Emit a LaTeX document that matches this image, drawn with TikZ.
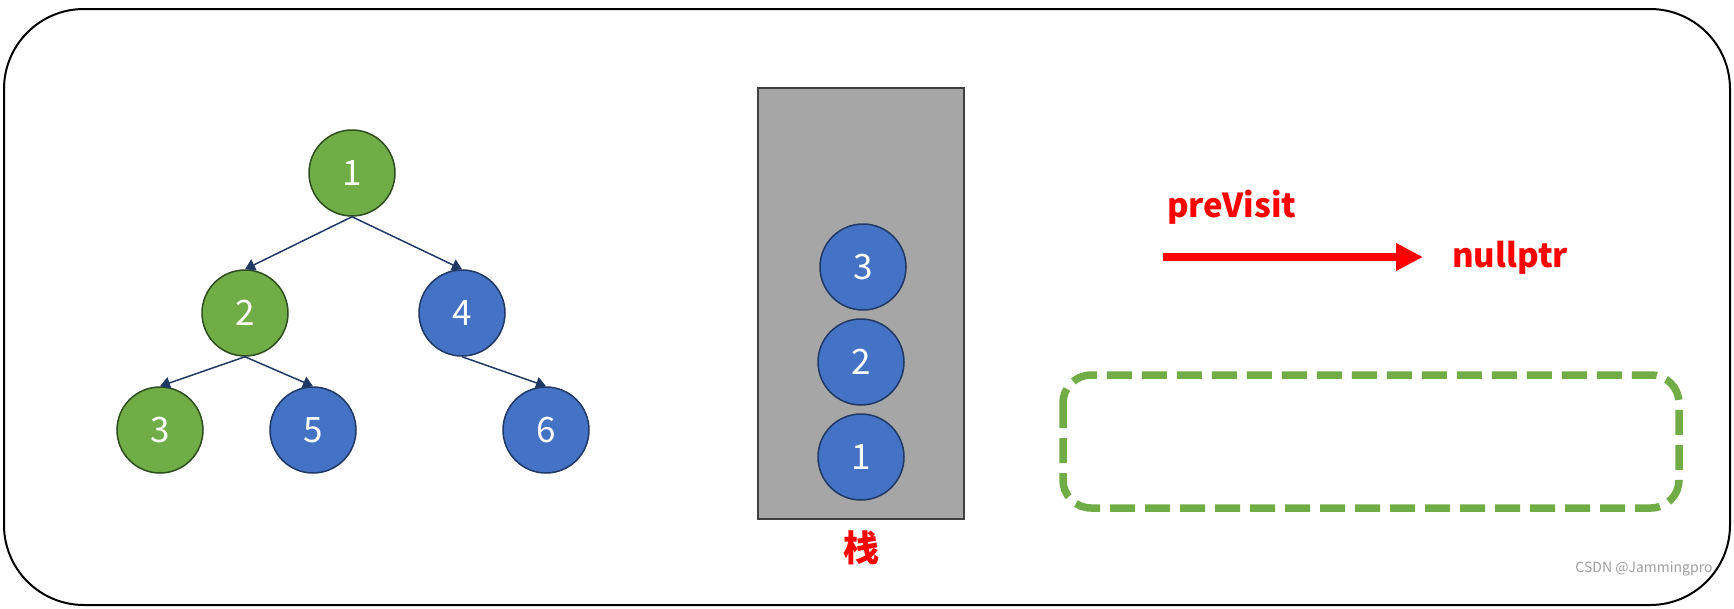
\documentclass[tikz,border=0pt]{standalone}
\usepackage{fontspec}
\setmainfont{Noto Sans CJK SC}
\usetikzlibrary{arrows.meta}
\definecolor{nodegreen}{HTML}{70AD47}
\definecolor{edgegreen}{HTML}{2E4D1F}
\definecolor{nodeblue}{HTML}{4472C4}
\definecolor{edgeblue}{HTML}{1F3864}
\definecolor{stackgray}{HTML}{A6A6A6}
\definecolor{stackline}{HTML}{404040}
\tikzset{
  visited/.style={circle, draw=edgegreen, fill=nodegreen, line width=1.5pt,
    minimum size=86pt, inner sep=0pt, text=white, font=\fontsize{35}{35}\selectfont},
  waiting/.style={visited, draw=edgeblue, fill=nodeblue},
  treelink/.style={draw=edgeblue, line width=1.5pt, -{Triangle[length=10pt, width=12pt]}},
  redtext/.style={text=red, font=\fontsize{33}{33}\selectfont\bfseries}
}
\begin{document}
\begin{tikzpicture}[x=1pt, y=-1pt]
  \useasboundingbox (0,0) rectangle (1734,608);
  \draw[line width=2pt, rounded corners=80pt] (4,9) rectangle (1730,605);
  \node[visited] (n1) at (352,173) {1};
  \node[visited] (n2) at (245,313) {2};
  \node[waiting] (n4) at (462,313) {4};
  \node[visited] (n3) at (160,430) {3};
  \node[waiting] (n5) at (313,430) {5};
  \node[waiting] (n6) at (546,430) {6};
  \foreach \a/\b in {n1/n2, n1/n4, n2/n3, n2/n5, n4/n6}
    \draw[treelink] (\a.south) -- (\b.north);
  \node[draw=stackline, fill=stackgray, line width=1.5pt, minimum width=206pt,
    minimum height=431pt, inner sep=0pt] (stack) at (861,303.5) {};
  \node[waiting] (s3) at (863,267) {3};
  \node[waiting] (s2) at (861,362) {2};
  \node[waiting] (s1) at (861,457) {1};
  \node[redtext, font=\fontsize{36}{36}\selectfont\bfseries] (stacklabel) at (861,548) {栈};
  \node[redtext, anchor=base west, inner sep=0pt] (pre) at (1167,217) {preVisit};
  \node[redtext, anchor=base west, inner sep=0pt] (null) at (1452,267) {nullptr};
  \coordinate (ptrstart) at (1163,257);
  \coordinate (ptrend) at (1423,257);
  \draw[red, line width=8pt, -{Triangle[length=27pt, width=26pt]}] (ptrstart) -- (ptrend);
  \draw[nodegreen, line width=7.5pt, dash pattern=on 25pt off 10pt, rounded corners=28pt]
    (1063,375) rectangle (1679,508);
  \node[text=gray!75, font=\fontsize{14}{14}\selectfont] (mark) at (1644,569) {CSDN @Jammingpro};
\end{tikzpicture}
\end{document}
